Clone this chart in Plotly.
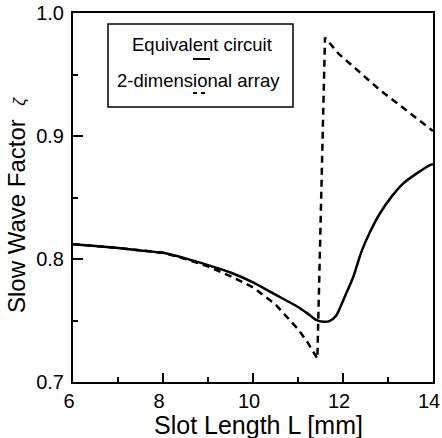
import plotly.graph_objects as go

# Data
eq_x = [6, 6.5, 7, 7.5, 8, 8.5, 9, 9.5, 10, 10.5, 11, 11.2, 11.4, 11.56, 11.7, 11.85, 12.04, 12.23, 12.41, 12.6, 12.82, 13.08, 13.34, 13.64, 13.93, 14]
eq_y = [0.812, 0.8105, 0.809, 0.807, 0.805, 0.8005, 0.795, 0.789, 0.781, 0.771, 0.761, 0.756, 0.7505, 0.749, 0.7495, 0.754, 0.7694, 0.7856, 0.806, 0.822, 0.837, 0.8507, 0.8615, 0.8696, 0.8764, 0.877]

arr_x = [6, 7, 8, 8.5, 9, 9.5, 10, 10.5, 11, 11.2, 11.43, 11.6, 11.9, 12.4, 12.8, 13.3, 13.8, 14]
arr_y = [0.812, 0.809, 0.805, 0.800, 0.794, 0.786, 0.777, 0.763, 0.743, 0.733, 0.719, 0.980, 0.967, 0.951, 0.938, 0.924, 0.910, 0.904]

x_ticks = [6, 8, 10, 12, 14]
x_tick_text = ["6", "8", "10", "12", "14"]
y_ticks = [0.7, 0.8, 0.9, 1.0]
y_tick_text = ["0.7", "0.8", "0.9", "1.0"]

FONT = "Liberation Sans, Arial, Helvetica, sans-serif"

fig = go.Figure()
fig.add_trace(go.Scatter(x=eq_x, y=eq_y, mode="lines", name="Equivalent circuit",
                         line=dict(color="black", width=2.5, shape="spline", smoothing=0.6)))
fig.add_trace(go.Scatter(x=arr_x, y=arr_y, mode="lines", name="2-dimensional array",
                         line=dict(color="black", width=2.5, dash="7px,5px")))

W, H = 442, 438
ml, mr, mt, mb = 73, 9, 13, 56
pw, ph = W - ml - mr, H - mt - mb

def px(xp):
    return (xp - ml) / pw

def py(yp):
    return 1 - (yp - mt) / ph

fig.update_layout(
    width=W, height=H,
    margin=dict(l=ml, r=mr, t=mt, b=mb, autoexpand=False),
    paper_bgcolor="white", plot_bgcolor="white",
    showlegend=False,
    font=dict(family=FONT, color="black", size=20),
    xaxis=dict(range=[6, 14], tickvals=x_ticks, ticktext=x_tick_text,
               ticks="inside", ticklen=9, tickwidth=2,
               tickcolor="black", showline=True, linewidth=2, linecolor="black", mirror=True,
               showgrid=False, zeroline=False, tickfont=dict(size=20), ticklabelstandoff=0,
               ticklabelshift=-4, ticklabeloverflow="allow", automargin=False,
               minor=dict(dtick=1, ticks="inside", ticklen=5, tickwidth=2, tickcolor="black", showgrid=False)),
    yaxis=dict(range=[0.7, 1.0], tickvals=y_ticks, ticktext=y_tick_text, ticks="inside", ticklen=10, tickwidth=2,
               tickcolor="black", showline=True, linewidth=2, linecolor="black", mirror=True,
               showgrid=False, zeroline=False, tickfont=dict(size=20), ticklabelstandoff=3,
               ticklabeloverflow="allow", automargin=False,
               minor=dict(dtick=0.05, ticks="inside", ticklen=5, tickwidth=2, tickcolor="black", showgrid=False)),
)

# Axis titles
fig.add_annotation(x=px(258), y=py(425), xref="paper", yref="paper", text="Slot Length L [mm]",
                   showarrow=False, font=dict(size=25), xanchor="center", yanchor="middle")
fig.add_annotation(x=px(16), y=py(205), xref="paper", yref="paper",
                   text="Slow Wave Factor  <i><span style='font-size:17px'>ζ</span></i>",
                   textangle=-90, showarrow=False, font=dict(size=24), xanchor="center", yanchor="middle")

# Legend box
fig.add_shape(type="rect", xref="paper", yref="paper", x0=px(108), x1=px(293), y0=py(107), y1=py(24),
              line=dict(color="black", width=1.5), fillcolor="white")
fig.add_annotation(x=px(202), y=py(44), xref="paper", yref="paper", text="Equivalent circuit",
                   showarrow=False, font=dict(size=18.5), xanchor="center", yanchor="middle")
fig.add_shape(type="line", xref="paper", yref="paper", x0=px(193), x1=px(210), y0=py(59), y1=py(59),
              line=dict(color="black", width=2))
fig.add_annotation(x=px(198), y=py(80), xref="paper", yref="paper", text="2-dimensional array",
                   showarrow=False, font=dict(size=18.5), xanchor="center", yanchor="middle")
fig.add_shape(type="line", xref="paper", yref="paper", x0=px(193), x1=px(207), y0=py(93), y1=py(93),
              line=dict(color="black", width=2, dash="4px,4px"))

fig.write_html("out.html")
